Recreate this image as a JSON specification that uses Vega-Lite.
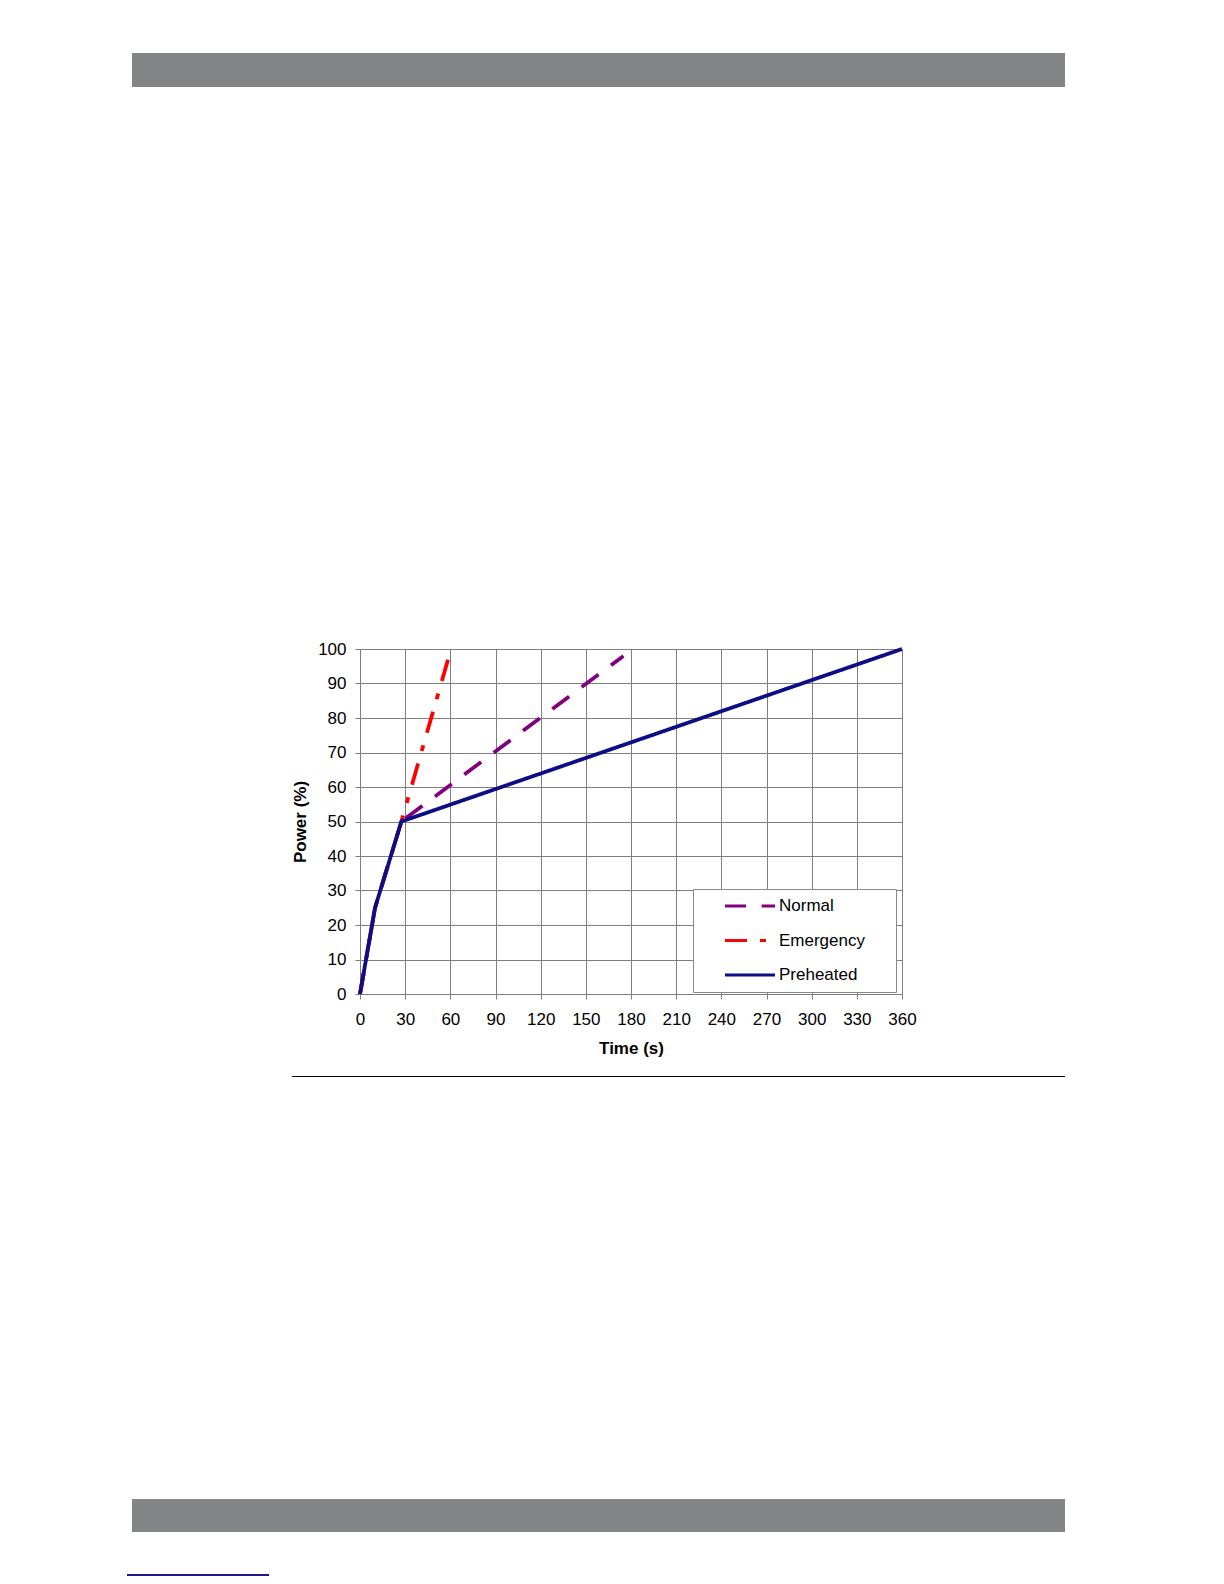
{
  "$schema": "https://vega.github.io/schema/vega-lite/v6.json",
  "background": "white",
  "padding": {"left": 127, "top": 53, "right": 0, "bottom": 0},
  "spacing": 0,
  "config": {
    "view": {"stroke": null},
    "concat": {"spacing": 0},
    "font": "Liberation Sans",
    "axis": {
      "labelFont": "Liberation Sans",
      "labelFontSize": 17,
      "labelColor": "black",
      "titleFont": "Liberation Sans",
      "titleFontSize": 17,
      "titleFontWeight": "bold",
      "titleColor": "black",
      "gridColor": "#7f7f7f",
      "gridOpacity": 1,
      "gridWidth": 1,
      "domainColor": "#7f7f7f",
      "domainWidth": 1,
      "tickColor": "#7f7f7f",
      "tickSize": 5,
      "tickWidth": 1
    },
    "legend": {
      "orient": "none",
      "legendX": 566,
      "legendY": 836,
      "titleOrient": "right",
      "titleFontSize": 1,
      "titlePadding": 24,
      "symbolType": "stroke",
      "symbolSize": 2500,
      "symbolStrokeWidth": 3,
      "clipHeight": 20,
      "rowPadding": 14.5,
      "padding": 7,
      "symbolOffset": 23.5,
      "labelOffset": 2.5,
      "labelFont": "Liberation Sans",
      "labelFontSize": 17,
      "labelColor": "black",
      "labelLimit": 0,
      "strokeColor": "#8a8a8a",
      "fillColor": "white"
    }
  },
  "vconcat": [
    {
      "spacing": 0,
      "hconcat": [
        {"width": 5, "height": 586.5, "data": {"values": []}, "mark": "point"},
        {"width": 933, "height": 34, "view": {"fill": "#838485", "stroke": null}, "data": {"values": []}, "mark": "point"}
      ]
    },
    {
      "spacing": 0,
      "hconcat": [
        {"width": 163.5, "height": 426.5, "data": {"values": []}, "mark": "point"},
        {
          "width": 542,
          "height": 345,
          "data": {
            "values": [
              {"series": "Normal", "time": 0, "power": 0},
              {"series": "Normal", "time": 10, "power": 25},
              {"series": "Normal", "time": 27.5, "power": 50},
              {"series": "Normal", "time": 175, "power": 98},
              {"series": "Emergency", "time": 0, "power": 0},
              {"series": "Emergency", "time": 10, "power": 25},
              {"series": "Emergency", "time": 27.5, "power": 50},
              {"series": "Emergency", "time": 58.5, "power": 97},
              {"series": "Preheated", "time": 0, "power": 0},
              {"series": "Preheated", "time": 10, "power": 25},
              {"series": "Preheated", "time": 27.5, "power": 50},
              {"series": "Preheated", "time": 360, "power": 100}
            ]
          },
          "mark": {"type": "line", "strokeWidth": 3.8, "strokeCap": "butt", "strokeJoin": "miter"},
          "encoding": {
            "x": {
              "field": "time",
              "type": "quantitative",
              "scale": {"domain": [0, 360], "nice": false, "zero": false},
              "axis": {
                "title": "Time (s)",
                "values": [0, 30, 60, 90, 120, 150, 180, 210, 240, 270, 300, 330, 360],
                "labelPadding": 12,
                "titlePadding": 13,
                "labelFlush": false,
                "labelOverlap": false
              }
            },
            "y": {
              "field": "power",
              "type": "quantitative",
              "scale": {"domain": [0, 100], "nice": false},
              "axis": {
                "title": "Power (%)",
                "values": [0, 10, 20, 30, 40, 50, 60, 70, 80, 90, 100],
                "labelPadding": 9,
                "titlePadding": 8,
                "labelFlush": false,
                "labelOverlap": false
              }
            },
            "color": {
              "field": "series",
              "type": "nominal",
              "scale": {"domain": ["Normal", "Emergency", "Preheated"], "range": ["#800080", "#ff0000", "#0d0d85"]},
              "legend": {"title": " "}
            },
            "strokeDash": {
              "field": "series",
              "type": "nominal",
              "scale": {"domain": ["Normal", "Emergency", "Preheated"], "range": [[21, 15.6], [22, 13, 6, 13], [1, 0]]},
              "legend": {"title": " "}
            }
          }
        }
      ]
    },
    {
      "spacing": 0,
      "hconcat": [
        {"width": 165, "height": 423, "data": {"values": []}, "mark": "point"},
        {"width": 773, "height": 1, "view": {"fill": "#000000", "stroke": null}, "data": {"values": []}, "mark": "point"}
      ]
    },
    {
      "spacing": 0,
      "hconcat": [
        {"width": 5, "height": 75, "data": {"values": []}, "mark": "point"},
        {"width": 933, "height": 33, "view": {"fill": "#838485", "stroke": null}, "data": {"values": []}, "mark": "point"}
      ]
    },
    {"width": 142, "height": 2, "view": {"fill": "#1a1a8a", "stroke": null}, "data": {"values": []}, "mark": "point"}
  ]
}
